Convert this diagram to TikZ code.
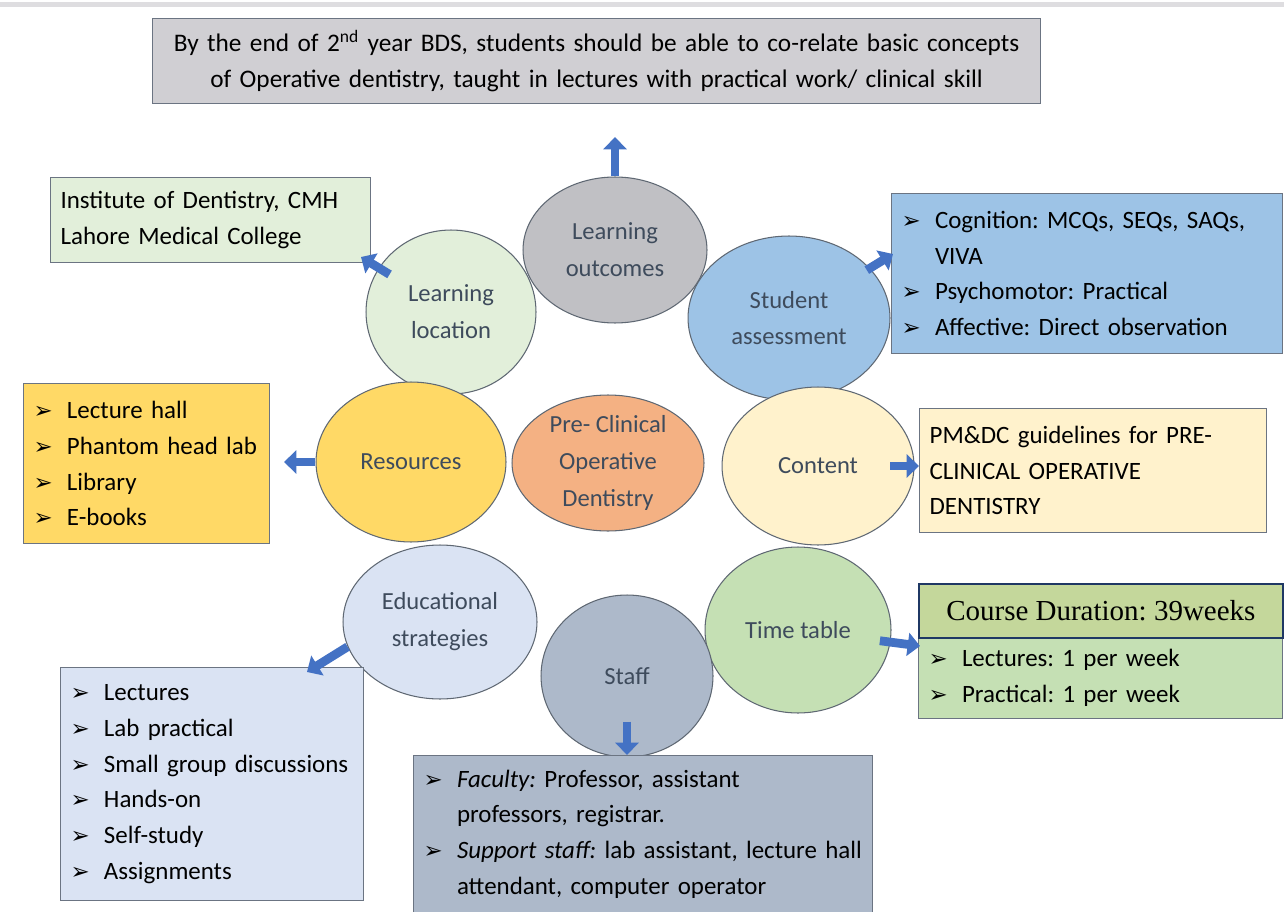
\documentclass[tikz,border=0pt]{standalone}
\usepackage{fontspec}
\setmainfont{Carlito}
\newfontfamily\timesfont{Liberation Serif}
\newfontfamily\symfont{DejaVu Sans}
\usetikzlibrary{shapes.geometric,arrows.meta}

\definecolor{arrowblue}{HTML}{4472C4}
\definecolor{ringgray}{HTML}{5F6873}
\definecolor{edgegray}{HTML}{6B7482}
\definecolor{labelslate}{HTML}{3E4B5C}
\definecolor{outgray}{HTML}{C0C0C4}
\definecolor{locgreen}{HTML}{E2EFDA}
\definecolor{stublue}{HTML}{9DC3E6}
\definecolor{resyellow}{HTML}{FFD966}
\definecolor{preorange}{HTML}{F4B183}
\definecolor{concream}{HTML}{FFF2CC}
\definecolor{edublue}{HTML}{DAE3F3}
\definecolor{staffgray}{HTML}{ADB9CA}
\definecolor{timegreen}{HTML}{C5E0B4}
\definecolor{headolive}{HTML}{C4D79B}
\definecolor{headnavy}{HTML}{1F3864}
\definecolor{topgray}{HTML}{D0CFD3}

% bullet, and indent for a wrapped line
\newcommand\itm{\makebox[19pt][l]{\symfont\bfseries\fontsize{13}{13}\selectfont ➢}}
\newcommand\cont{\hspace*{19pt}}
\frenchspacing

\begin{document}
\begin{tikzpicture}[x=0.02cm, y=-0.02cm,
    bubble/.style ={ellipse, draw=ringgray, line width=0.6pt, inner sep=0pt,
      align=center, text=labelslate, font=\fontsize{14}{21}\selectfont},
    block_list/.style ={rectangle, draw=edgegray, line width=0.7pt, anchor=north west,
      inner xsep=0.2cm, inner ysep=0pt, align=left, font=\fontsize{14.2}{20.3}\selectfont},
    block_head/.style ={rectangle, draw=headnavy, line width=1pt, fill=headolive, anchor=north west,
      inner sep=0pt, font=\timesfont\fontsize{16.5}{18}\selectfont},
    line/.style ={draw=arrowblue, line width=5pt, -{Triangle[length=7pt,width=13pt]}}]
    \useasboundingbox (0,0) rectangle (1284,912);
    \fill[topgray!70] (0,2) rectangle (1284,7);

    % goal on top
    \node [block_list, fill=topgray, draw=edgegray, align=center, inner xsep=0.05cm, minimum width=17.76cm,
      minimum height=1.70cm, text width=17.66cm, font=\fontsize{14.4}{20.5}\selectfont] (goal) at (152,18) {
      By the end of 2\textsuperscript{nd} year BDS, students should be able to co-relate basic concepts\\
      of Operative dentistry, taught in lectures with practical work/ clinical skill};

    % ring of bubbles
    \node [bubble, fill=outgray, minimum width=3.68cm, minimum height=2.92cm] (out) at (615,250) {Learning\\outcomes};
    \node [bubble, fill=locgreen, minimum width=3.40cm, minimum height=3.28cm] (loc) at (451,312) {Learning\\location};
    \node [bubble, fill=stublue, minimum width=4.04cm, minimum height=3.28cm] (stu) at (789,318) {Student\\assessment};
    \node [bubble, fill=resyellow, minimum width=3.80cm, minimum height=3.20cm] (res) at (411,462) {Resources};
    \node [bubble, fill=preorange, minimum width=3.84cm, minimum height=2.72cm] (pre) at (608,463) {Pre- Clinical\\Operative\\Dentistry};
    \node [bubble, fill=concream, minimum width=3.84cm, minimum height=3.16cm] (con) at (818,466) {Content};
    \node [bubble, fill=edublue, minimum width=3.88cm, minimum height=3.08cm] (edu) at (440,622) {Educational\\strategies};
    \node [bubble, fill=timegreen, minimum width=3.72cm, minimum height=3.32cm] (time) at (798,630) {Time table};
    \node [bubble, fill=staffgray, minimum width=3.44cm, minimum height=3.24cm] (staff) at (627,676) {Staff};

    % boxes round the ring
    \node [block_list, fill=locgreen, minimum width=6.40cm, minimum height=1.70cm, text width=6.00cm] (inst) at (50,177) {
      Institute of Dentistry, CMH\\Lahore Medical College};
    \node [block_list, fill=stublue, minimum width=7.82cm, minimum height=3.20cm, text width=7.42cm] (stub) at (891,193) {
      \itm Cognition: MCQs, SEQs, SAQs,\\
      \cont VIVA\\
      \itm Psychomotor: Practical\\
      \itm Affective: Direct observation};
    \node [block_list, fill=resyellow, minimum width=4.92cm, minimum height=3.20cm, text width=4.52cm] (resb) at (23,383) {
      \itm Lecture hall\\
      \itm Phantom head lab\\
      \itm Library\\
      \itm E-books};
    \node [block_list, fill=concream, minimum width=6.94cm, minimum height=2.48cm, text width=6.54cm] (conb) at (919,408) {
      PM\&DC guidelines for PRE-\\CLINICAL OPERATIVE\\DENTISTRY};
    \node [block_list, fill=timegreen, minimum width=7.28cm, minimum height=1.62cm, text width=6.88cm] (timeb) at (918,637) {
      \itm Lectures: 1 per week\\
      \itm Practical: 1 per week};
    \node [block_head, minimum width=7.28cm, minimum height=1.08cm] (timeh) at (918,583) {Course Duration: 39weeks};
    \node [block_list, fill=edublue, minimum width=6.06cm, minimum height=4.66cm, text width=5.66cm] (edub) at (60,667) {
      \itm Lectures\\
      \itm Lab practical\\
      \itm Small group discussions\\
      \itm Hands-on\\
      \itm Self-study\\
      \itm Assignments};
    \node [block_list, fill=staffgray, minimum width=9.18cm, minimum height=3.14cm, text width=8.78cm] (staffb) at (413,755) {
      \itm \textit{Faculty:} Professor, assistant\\
      \cont professors, registrar.\\
      \itm \textit{Support staff:} lab assistant, lecture hall\\
      \cont attendant, computer operator};

    % free arrow ends
    \coordinate (outtip) at (615,137);
    \coordinate (insttip) at (361,257);
    \coordinate (stutip) at (893,254);
    \coordinate (timetip) at (920,646);
    \coordinate (restip) at (284,462);
    \coordinate (edutip) at (307,672);

    % connecting nodes with paths
    \begin{scope}[every path/.style=line]
      \path (out.north) -- (outtip);
      \path[shorten <=41pt] (loc.center) -- (insttip);
      \path[shorten <=52pt] (stu.center) -- (stutip);
      \path[shorten <=41pt] (con.center) -- (conb.west |- con.center);
      \path[shorten <=47pt] (time.center) -- (timetip);
      \path (res.west) -- (restip);
      \path (edu.195) -- (edutip);
      \path[shorten <=26pt] (staff.center) -- (staff.center |- staffb.north);
    \end{scope}
\end{tikzpicture}
\end{document}
